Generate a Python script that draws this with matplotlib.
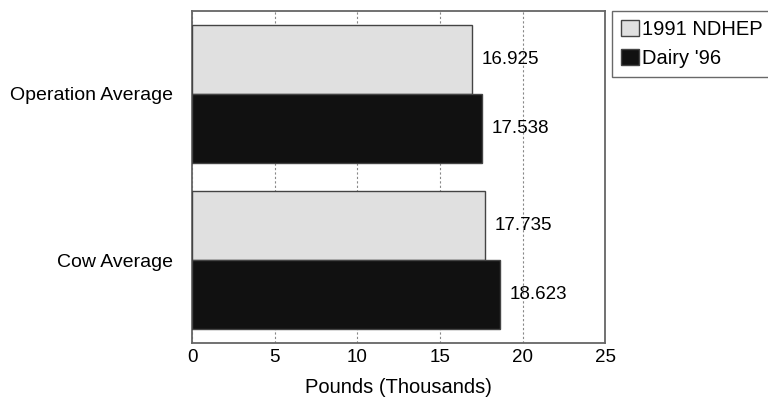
import numpy as np
import matplotlib.pyplot as plt

plt.rcParams['font.family'] = ['Liberation Sans', 'DejaVu Sans']

categories = ['Cow Average', 'Operation Average']
series = ['1991 NDHEP', "Dairy '96"]
ndhep_1991 = [17.735, 16.925]
dairy_96 = [18.623, 17.538]
value_labels_1991 = ['17.735', '16.925']
value_labels_96 = ['18.623', '17.538']
xticks = [0, 5, 10, 15, 20, 25]

fig = plt.figure(figsize=(7.68, 4.05), dpi=100)
ax = fig.add_axes([0.25, 0.153, 0.538, 0.82])

y = np.arange(len(categories))
h = 0.415
ax.barh(y + h / 2, ndhep_1991, height=h, color='#e0e0e0', edgecolor='#444444',
        linewidth=1.0, label=series[0], zorder=3)
ax.barh(y - h / 2, dairy_96, height=h, color='#111111', edgecolor='#444444',
        linewidth=1.0, label=series[1], zorder=3)

for yi, v, s in zip(y + h / 2, ndhep_1991, value_labels_1991):
    ax.text(v + 0.6, yi, s, va='center', ha='left', fontsize=13.5)
for yi, v, s in zip(y - h / 2, dairy_96, value_labels_96):
    ax.text(v + 0.6, yi, s, va='center', ha='left', fontsize=13.5)

ax.set_xlim(0, 25)
ax.set_ylim(-0.5, 1.5)
ax.set_xticks(xticks)
ax.set_xticklabels([str(t) for t in xticks], fontsize=13.5)
ax.set_yticks(y)
ax.set_yticklabels(categories, fontsize=14)
ax.tick_params(axis='x', length=0, pad=4)
ax.tick_params(axis='y', length=0, pad=14)
ax.xaxis.grid(True, linestyle=(0, (2, 2)), color='#888888', linewidth=0.8, zorder=0)
for sp in ax.spines.values():
    sp.set_color('#666666')
    sp.set_linewidth(1.3)
ax.set_xlabel('Pounds (Thousands)', fontsize=14.5, labelpad=9)

leg = fig.legend(loc='upper left', bbox_to_anchor=(0.797, 0.973), fontsize=14.5,
                 frameon=True, fancybox=False, edgecolor='#444444',
                 handlelength=0.9, handleheight=0.8, handletextpad=0.15,
                 borderpad=0.45, labelspacing=0.5, borderaxespad=0)
leg.get_frame().set_linewidth(1.0)

fig.savefig('out.png', dpi=100)
